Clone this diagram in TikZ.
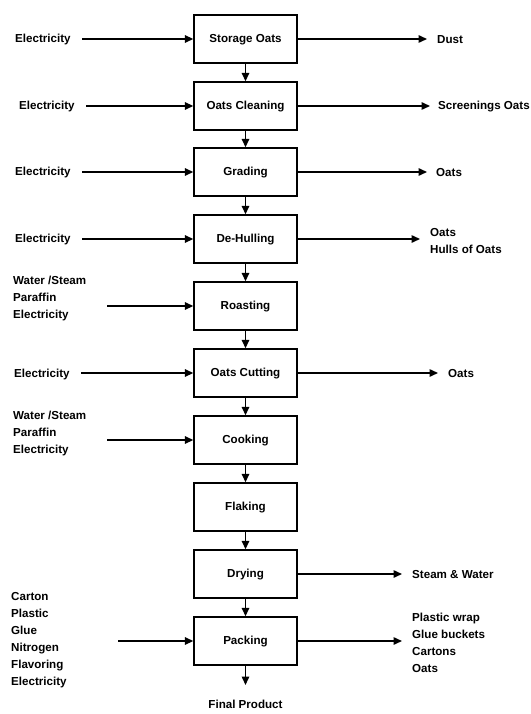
\documentclass[tikz,border=0pt]{standalone}
\usepackage{fontspec}
\setmainfont{Liberation Sans}
\usetikzlibrary{arrows.meta}
\begin{document}
\begin{tikzpicture}[x=1pt,y=-1pt,
  proc/.style={draw,line width=1.4pt,minimum width=103pt,minimum height=48pt,inner sep=0pt,text height=7.6pt,text depth=0pt,font=\fontsize{11.6}{14}\selectfont\bfseries},
  lbl/.style={inner sep=0pt,font=\fontsize{11.6}{17}\selectfont\bfseries,align=left},
  flow/.style={line width=1.5pt,-{Triangle[length=8.5pt,width=7.5pt]}}]
\useasboundingbox (0,0) rectangle (530,714);
% process boxes
\node[proc] (b1) at (245.5,39) {Storage Oats};
\node[proc] (b2) at (245.5,106) {Oats Cleaning};
\node[proc] (b3) at (245.5,172) {Grading};
\node[proc] (b4) at (245.5,239) {De-Hulling};
\node[proc] (b5) at (245.5,306) {Roasting};
\node[proc] (b6) at (245.5,373) {Oats Cutting};
\node[proc] (b7) at (245.5,440) {Cooking};
\node[proc] (b8) at (245.5,507) {Flaking};
\node[proc] (b9) at (245.5,574) {Drying};
\node[proc] (b10) at (245.5,641) {Packing};
\foreach \a/\b in {b1/b2,b2/b3,b3/b4,b4/b5,b5/b6,b6/b7,b7/b8,b8/b9,b9/b10}
  \draw[flow] (\a.south) -- (\b.north);
\coordinate (fpin) at (245.5,685);
\draw[flow] (b10.south) -- (fpin);
\node[lbl,anchor=north] (fp) at (245.5,700) {Final Product};
% left inputs
\node[lbl,anchor=west] (e1) at (15,40) {Electricity};
\node[lbl,anchor=west] (e2) at (19,107) {Electricity};
\node[lbl,anchor=west] (e3) at (15,173) {Electricity};
\node[lbl,anchor=west] (e4) at (15,240) {Electricity};
\node[lbl,anchor=west] (e5) at (13,298) {Water /Steam\\Paraffin\\Electricity};
\node[lbl,anchor=west] (e6) at (14,374) {Electricity};
\node[lbl,anchor=west] (e7) at (13,433) {Water /Steam\\Paraffin\\Electricity};
\node[lbl,anchor=west] (e10) at (11,640) {Carton\\Plastic\\Glue\\Nitrogen\\Flavoring\\Electricity};
\coordinate (s1) at (82,39);
\coordinate (s2) at (86,106);
\coordinate (s3) at (82,172);
\coordinate (s4) at (82,239);
\coordinate (s5) at (107,306);
\coordinate (s6) at (81,373);
\coordinate (s7) at (107,440);
\coordinate (s10) at (118,641);
\foreach \i in {1,2,3,4,5,6,7,10}
  \draw[flow] (s\i) -- (b\i.west);
% right outputs
\coordinate (t1) at (427,39);
\coordinate (t2) at (430,106);
\coordinate (t3) at (427,172);
\coordinate (t4) at (420,239);
\coordinate (t6) at (438,373);
\coordinate (t9) at (402,574);
\coordinate (t10) at (402,641);
\foreach \i in {1,2,3,4,6,9,10}
  \draw[flow] (b\i.east) -- (t\i);
\node[lbl,anchor=west] (o1) at (437,40) {Dust};
\node[lbl,anchor=west] (o2) at (438,107) {Screenings Oats};
\node[lbl,anchor=west] (o3) at (436,173) {Oats};
\node[lbl,anchor=west] (o4) at (430,241) {Oats\\Hulls of Oats};
\node[lbl,anchor=west] (o6) at (448,374) {Oats};
\node[lbl,anchor=west] (o9) at (412,575) {Steam \& Water};
\node[lbl,anchor=west] (o10) at (412,643) {Plastic wrap\\Glue buckets\\Cartons\\Oats};
\end{tikzpicture}
\end{document}
